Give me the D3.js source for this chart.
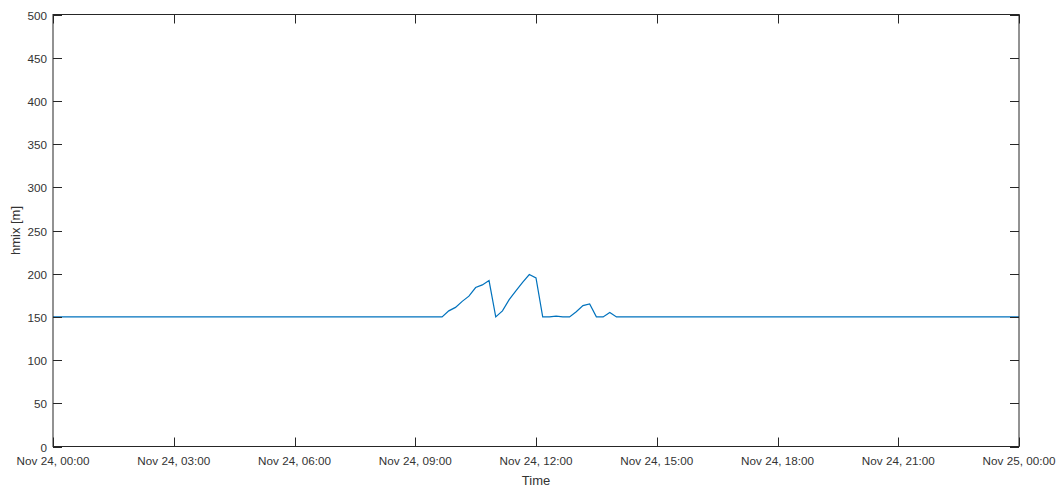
<!DOCTYPE html>
<html lang="en">
<head>
  <meta charset="UTF-8">
  <title>hmix</title>
  <script src="https://cdn.jsdelivr.net/npm/d3@7"></script>
  <style>
    body { margin: 0; background: #fff; }
    text { font-family: "Liberation Sans", Arial, sans-serif; fill: #333; }
  </style>
</head>
<body>
  <svg id="chart" width="1062" height="488"></svg>
  <script>
    // time stamps (Nov 24) and hmix values in metres
    const times = ['00:00', '09:40', '09:50', '10:00', '10:10', '10:20', '10:30', '10:40', '10:50',
      '11:00', '11:10', '11:20', '11:30', '11:40', '11:50', '12:00', '12:10', '12:20', '12:30',
      '12:40', '12:50', '13:00', '13:10', '13:20', '13:30', '13:40', '13:50', '14:00', '24:00'];
    const hmix = [150, 150, 157, 161, 168, 174, 184, 187, 192,
      150, 157, 170, 180, 190, 199, 195, 150, 150, 151,
      150, 150, 156, 163, 165, 150, 150, 155, 150, 150];
    const yTicks = [0, 50, 100, 150, 200, 250, 300, 350, 400, 450, 500];
    const xTickHours = [0, 3, 6, 9, 12, 15, 18, 21, 24];

    const day0 = new Date(2020, 10, 24, 0, 0);
    const toDate = (s) => {
      let p = s.split(':');
      return new Date(day0.getTime() + (+p[0] * 60 + +p[1]) * 60000);
    };
    const data = times.map((t, i) => ({ t: toDate(t), v: hmix[i] }));

    let mLeft = 53, mRight = 1019, mTop = 14.5, mBottom = 446.5,
      tick = 9,
      axisColor = '#262626',
      svg = d3.select('#chart');

    let x = d3.scaleTime()
      .domain([day0, new Date(day0.getTime() + 24 * 3600000)])
      .range([mLeft, mRight]);
    let y = d3.scaleLinear().domain([0, 500]).range([mBottom, mTop]);

    const fmt = d3.timeFormat('%b %d, %H:%M');
    const xTicks = xTickHours.map(h => new Date(day0.getTime() + h * 3600000));

    // data line
    svg.append('path')
      .datum(data)
      .attr('fill', 'none')
      .attr('stroke', '#0072BD')
      .attr('stroke-width', 1.2)
      .attr('d', d3.line().x(d => x(d.t)).y(d => y(d.v)));

    // box
    svg.append('rect')
      .attr('x', mLeft).attr('y', mTop)
      .attr('width', mRight - mLeft).attr('height', mBottom - mTop)
      .attr('fill', 'none')
      .attr('stroke', axisColor)
      .attr('stroke-width', 1);

    let g = svg.append('g').attr('stroke', axisColor).attr('stroke-width', 1);

    // x ticks, bottom and top, pointing inward
    xTicks.forEach(d => {
      let px = Math.round(x(d)) + 0.5;
      g.append('line').attr('x1', px).attr('x2', px).attr('y1', mBottom).attr('y2', mBottom - tick);
      g.append('line').attr('x1', px).attr('x2', px).attr('y1', mTop).attr('y2', mTop + tick);
    });
    // y ticks, left and right
    yTicks.forEach(d => {
      let py = Math.round(y(d)) + 0.5;
      g.append('line').attr('x1', mLeft).attr('x2', mLeft + tick).attr('y1', py).attr('y2', py);
      g.append('line').attr('x1', mRight).attr('x2', mRight - tick).attr('y1', py).attr('y2', py);
    });

    svg.selectAll('.xlab')
      .data(xTicks)
      .enter()
      .append('text')
      .attr('x', d => x(d))
      .attr('y', mBottom + 18.5)
      .attr('text-anchor', 'middle')
      .attr('font-size', '11.7px')
      .text(d => fmt(d).replace(/ 0(\d),/, ' $1,'));

    svg.selectAll('.ylab')
      .data(yTicks)
      .enter()
      .append('text')
      .attr('x', mLeft - 6)
      .attr('y', d => y(d) + 5)
      .attr('text-anchor', 'end')
      .attr('font-size', '11.7px')
      .text(d => d);

    svg.append('text')
      .attr('x', (mLeft + mRight) / 2)
      .attr('y', 485)
      .attr('text-anchor', 'middle')
      .attr('font-size', '13px')
      .text('Time');

    svg.append('text')
      .attr('transform', `translate(20, ${(mTop + mBottom) / 2}) rotate(-90)`)
      .attr('text-anchor', 'middle')
      .attr('font-size', '13px')
      .text('hmix [m]');
  </script>
</body>
</html>
